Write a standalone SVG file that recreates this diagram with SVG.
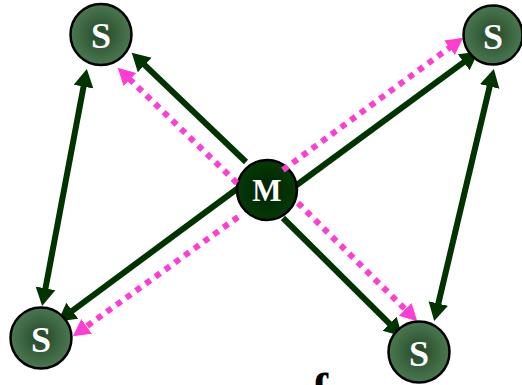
<svg xmlns="http://www.w3.org/2000/svg" width="522" height="385" viewBox="0 0 522 385">
<style>
.g{stroke:#003300;stroke-width:6;fill:none;marker-end:url(#ag)}
.gd{marker-start:url(#ag)}
.p{stroke:#ff3dd2;stroke-width:6;fill:none;stroke-dasharray:6 6;marker-end:url(#ap)}
.s{fill:url(#sg);stroke:#000;stroke-width:2.5}
.m{fill:url(#mg);stroke:#000;stroke-width:2.5}
.t{fill:#fff;font-family:"Liberation Serif",serif;font-weight:bold;text-anchor:middle}
</style>
<defs>
<radialGradient id="sg" cx="0.5" cy="0.5" r="0.5">
<stop offset="0" stop-color="#234526"/>
<stop offset="0.6" stop-color="#3b6540"/>
<stop offset="1" stop-color="#4b7850"/>
</radialGradient>
<radialGradient id="mg" cx="0.5" cy="0.5" r="0.5">
<stop offset="0" stop-color="#002200"/>
<stop offset="1" stop-color="#053a08"/>
</radialGradient>
<marker id="ag" markerUnits="userSpaceOnUse" viewBox="0 -11 20 22" markerWidth="20" markerHeight="22" refX="1" refY="0" orient="auto-start-reverse">
<path d="M0,-10 L18,0 L0,10 z" fill="#003300"/>
</marker>
<marker id="ap" markerUnits="userSpaceOnUse" viewBox="0 -10 19 20" markerWidth="19" markerHeight="20" refX="1" refY="0" orient="auto">
<path d="M0,-9 L17,0 L0,9 z" fill="#ff3dd2"/>
</marker>
</defs>
<g id="connectors">
<path class="g" d="M246,162 L144,64.4"/>
<path class="g" d="M294,187 L464.5,61.7"/>
<path class="g" d="M245,183 L71.5,311.3"/>
<path class="g" d="M283,218 L390.2,324.3"/>
<path class="g gd" d="M83.7,85.7 L45.3,289.3"/>
<path class="g gd" d="M489.9,85.5 L438.1,304.5"/>
</g>
<g id="M">
<circle class="m" cx="267" cy="190" r="30"/>
<text class="t" x="267" y="201" font-size="31">M</text>
</g>
<g id="pink-connectors">
<path class="p" d="M237,183 L129.2,78.8"/>
<path class="p" d="M283,170 L450.3,47.1"/>
<path class="p" d="M238,217 L85.8,327"/>
<path class="p" d="M298,203 L405.9,310"/>
</g>
<g id="S1">
<circle class="s" cx="101" cy="34.5" r="30.5"/>
<text class="t" x="101" y="48" font-size="36">S</text>
</g>
<g id="S2">
<circle class="s" cx="493" cy="35" r="29.5"/>
<text class="t" x="493" y="48.5" font-size="36">S</text>
</g>
<g id="S3">
<circle class="s" cx="41" cy="338" r="30.5"/>
<text class="t" x="41" y="351.5" font-size="36">S</text>
</g>
<g id="S4">
<circle class="s" cx="419" cy="352" r="30.5"/>
<text class="t" x="419" y="365.5" font-size="36">S</text>
</g>
<text x="312" y="407" font-family="Liberation Serif,serif" font-weight="bold" font-size="48" fill="#000">f</text>
</svg>
